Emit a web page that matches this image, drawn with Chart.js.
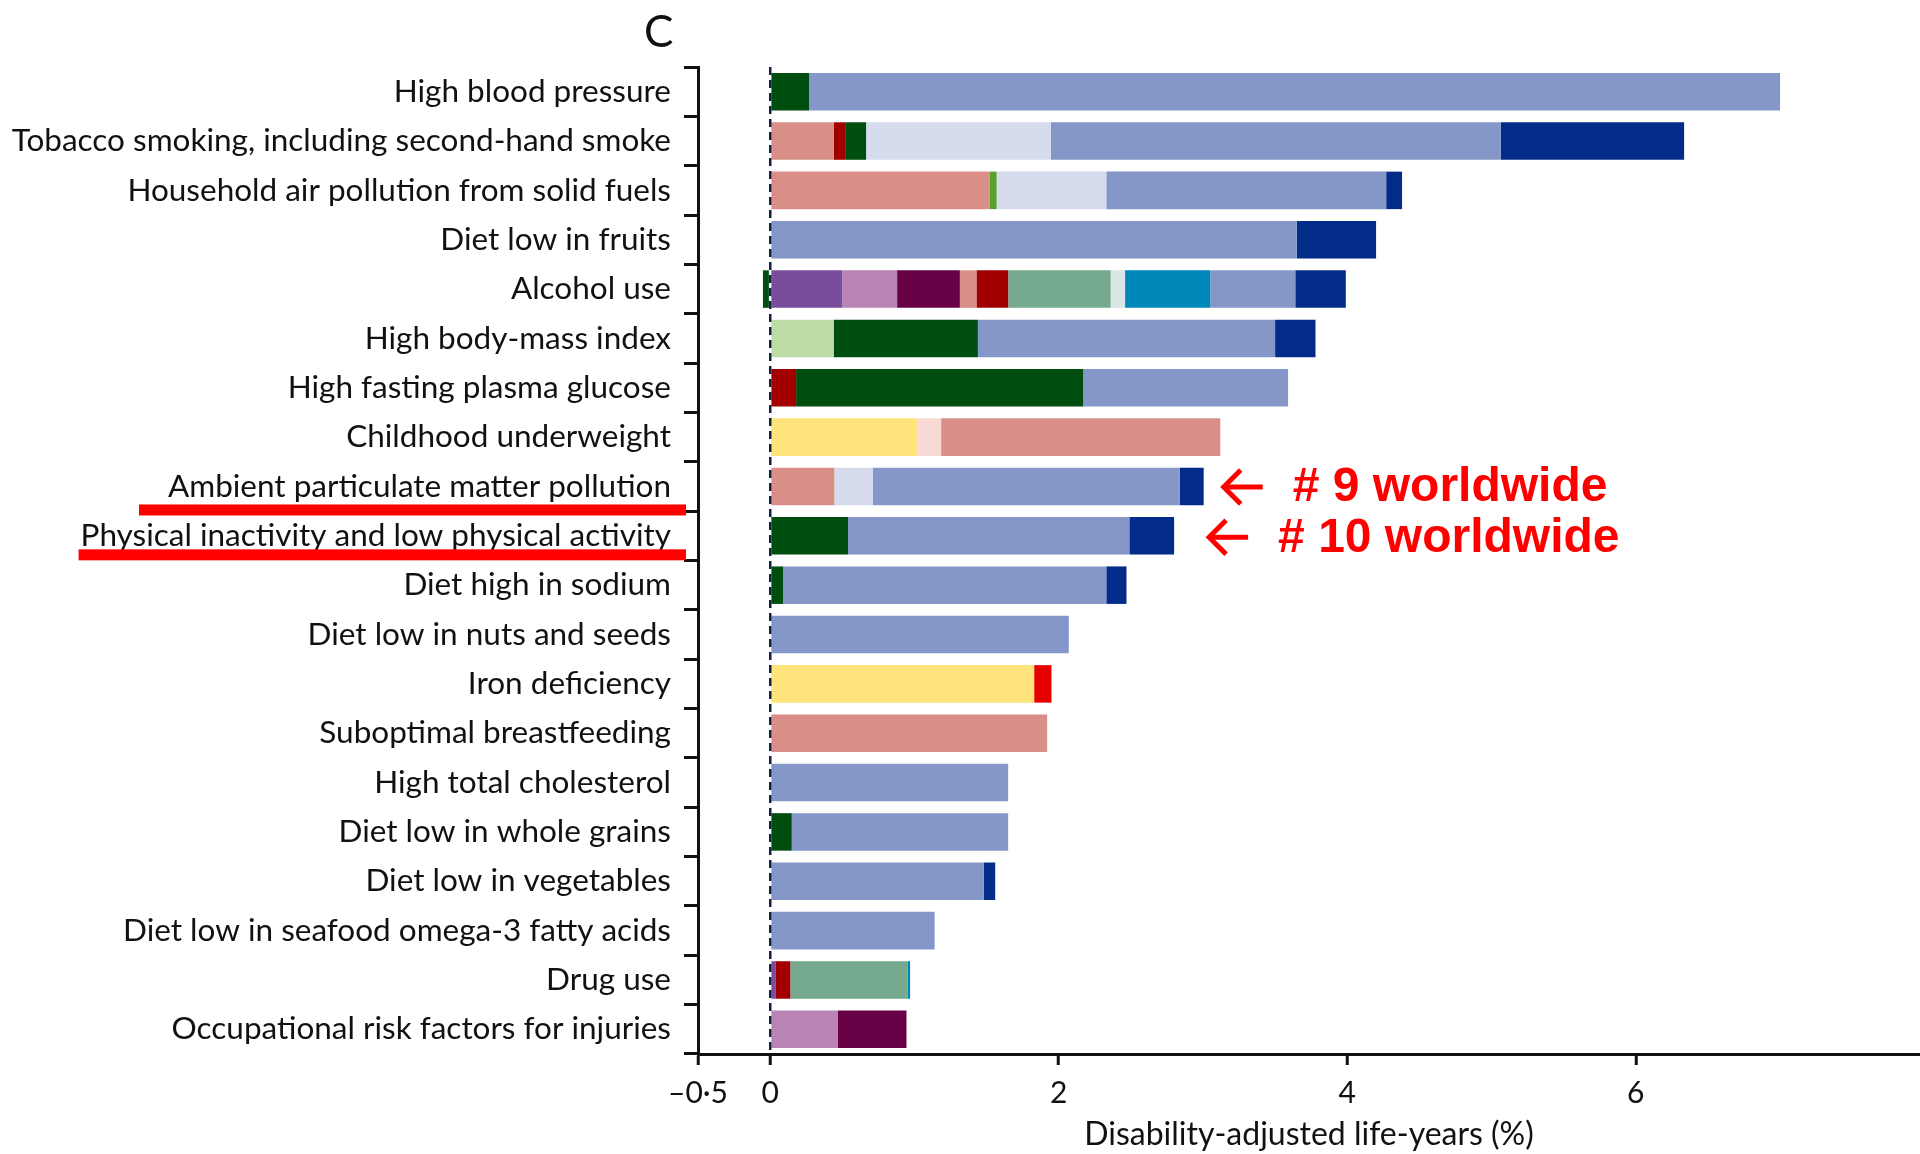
<!DOCTYPE html>
<html>
<head>
<meta charset="utf-8">
<title>Leading risk factors — DALYs</title>
<script src="https://cdn.jsdelivr.net/npm/chart.js@4.4.1/dist/chart.umd.min.js"></script>
<style>
  html, body { margin: 0; padding: 0; background: #ffffff; overflow: hidden; }
  #wrap { position: relative; width: 1920px; height: 1154px; }
</style>
</head>
<body>
<div id="wrap"><canvas id="chart" width="1920" height="1154"></canvas></div>
<script>
// Risk factors, ranked by share of global disability-adjusted life-years
const riskFactors = [
  'High blood pressure',
  'Tobacco smoking, including second-hand smoke',
  'Household air pollution from solid fuels',
  'Diet low in fruits',
  'Alcohol use',
  'High body-mass index',
  'High fasting plasma glucose',
  'Childhood underweight',
  'Ambient particulate matter pollution',
  'Physical inactivity and low physical activity',
  'Diet high in sodium',
  'Diet low in nuts and seeds',
  'Iron deficiency',
  'Suboptimal breastfeeding',
  'High total cholesterol',
  'Diet low in whole grains',
  'Diet low in vegetables',
  'Diet low in seafood omega-3 fatty acids',
  'Drug use',
  'Occupational risk factors for injuries'
];

// Attributable DALYs (%) by cause group, one value per risk factor (same order as above)
const transportInjuries      = [0, 0, 0, 0, 0.50, 0, 0, 0, 0, 0, 0, 0, 0, 0, 0, 0, 0, 0, 0.04, 0];
const unintentionalInjuries  = [0, 0, 0, 0, 0.38, 0, 0, 0, 0, 0, 0, 0, 0, 0, 0, 0, 0, 0, 0, 0.47];
const selfHarmViolence       = [0, 0, 0, 0, 0.435, 0, 0, 0, 0, 0, 0, 0, 0, 0, 0, 0, 0, 0, 0, 0.475];
const nutritionalDeficiency  = [0, 0, 0, 0, 0, 0, 0, 1.02, 0, 0, 0, 0, 1.83, 0, 0, 0, 0, 0, 0, 0];
const maternalDisorders      = [0, 0, 0, 0, 0, 0, 0, 0, 0, 0, 0, 0, 0.12, 0, 0, 0, 0, 0, 0, 0];
const otherCommunicable      = [0, 0, 0, 0, 0, 0, 0, 0.165, 0, 0, 0, 0, 0, 0, 0, 0, 0, 0, 0, 0];
const commonInfections       = [0, 0.44, 1.52, 0, 0.115, 0, 0, 1.935, 0.445, 0, 0, 0, 0, 1.92, 0, 0, 0, 0, 0, 0];
const hivTuberculosis        = [0, 0.085, 0, 0, 0.22, 0, 0.18, 0, 0, 0, 0, 0, 0, 0, 0, 0, 0, 0, 0.10, 0];
const musculoskeletal        = [0, 0, 0, 0, 0, 0.44, 0, 0, 0, 0, 0, 0, 0, 0, 0, 0, 0, 0, 0, 0];
const diabetesEndocrine      = [0.27, 0.14, 0, 0, -0.05, 1.00, 1.99, 0, 0, 0.54, 0.09, 0, 0, 0, 0, 0.15, 0, 0, 0, 0];
const otherNonCommunicable   = [0, 0, 0.05, 0, 0, 0, 0, 0, 0, 0, 0, 0, 0, 0, 0, 0, 0, 0, 0, 0];
const mentalSubstanceUse     = [0, 0, 0, 0, 0.71, 0, 0, 0, 0, 0, 0, 0, 0, 0, 0, 0, 0, 0, 0.815, 0];
const neurological           = [0, 0, 0, 0, 0.10, 0, 0, 0, 0, 0, 0, 0, 0, 0, 0, 0, 0, 0, 0, 0];
const cirrhosis              = [0, 0, 0, 0, 0.59, 0, 0, 0, 0, 0, 0, 0, 0, 0, 0, 0, 0, 0, 0.015, 0];
const chronicRespiratory     = [0, 1.28, 0.76, 0, 0, 0, 0, 0, 0.265, 0, 0, 0, 0, 0, 0, 0, 0, 0, 0, 0];
const cardiovascular         = [6.73, 3.12, 1.94, 3.65, 0.59, 2.06, 1.42, 0, 2.13, 1.95, 2.24, 2.07, 0, 0, 1.65, 1.50, 1.48, 1.14, 0, 0];
const neoplasms              = [0, 1.27, 0.11, 0.55, 0.35, 0.28, 0, 0, 0.165, 0.31, 0.14, 0, 0, 0, 0, 0, 0.08, 0, 0, 0];

// Axis tick values
const xTickValues = [-0.5, 0, 2, 4, 6];

// Stack order (left to right) with fill colours
const causeSeries = [
  ['Transport injuries', transportInjuries, '#7a4c9c'],
  ['Unintentional injuries', unintentionalInjuries, '#b984b4'],
  ['Self-harm and interpersonal violence', selfHarmViolence, '#670044'],
  ['Nutritional deficiencies', nutritionalDeficiency, '#fee47a'],
  ['Maternal disorders', maternalDisorders, '#e60000'],
  ['Other communicable diseases', otherCommunicable, '#f7dad5'],
  ['Diarrhoea, lower respiratory and other common infections', commonInfections, '#d98e87'],
  ['HIV/AIDS and tuberculosis', hivTuberculosis, '#a20000'],
  ['Musculoskeletal disorders', musculoskeletal, '#bedca6'],
  ['Diabetes, urogenital, blood and endocrine diseases', diabetesEndocrine, '#004d10'],
  ['Other non-communicable diseases', otherNonCommunicable, '#5aa02d'],
  ['Mental and substance use disorders', mentalSubstanceUse, '#76aa8e'],
  ['Neurological disorders', neurological, '#dae5e6'],
  ['Cirrhosis', cirrhosis, '#0087ba'],
  ['Chronic respiratory diseases', chronicRespiratory, '#d6dcee'],
  ['Cardiovascular diseases', cardiovascular, '#8597c9'],
  ['Neoplasms', neoplasms, '#032b8a']
];

const LABEL_FONT = { family: 'Lato', size: 31.5 };
const Y_TICK_LEN = 14;
const Y_TICK_PAD = 13;

// Highlighted rows: red underline beneath the label, arrow and rank note beside the bar
const highlights = [
  { row: 8, note: '# 9 worldwide', underlineDy: 23.5, underlineLead: 29, arrowGap: 19, arrowDy: 0.5 },
  { row: 9, note: '# 10 worldwide', underlineDy: 19, underlineLead: 2, arrowGap: 34, arrowDy: 1.5 }
];

const annotationPlugin = {
  id: 'figureAnnotations',
  afterDraw(chart) {
    const { ctx, scales } = chart;
    const x = scales.x, y = scales.y;
    ctx.save();

    // Panel letter
    ctx.fillStyle = '#111';
    ctx.font = '44px Lato';
    ctx.textAlign = 'left';
    ctx.textBaseline = 'alphabetic';
    ctx.fillText('C', y.right - 54, 47);

    const labelRight = y.right - Y_TICK_LEN - Y_TICK_PAD;
    ctx.font = LABEL_FONT.size + 'px ' + LABEL_FONT.family;

    highlights.forEach(h => {
      const rowY = y.getPixelForValue(h.row);

      // underline below the risk-factor label
      const w = ctx.measureText(riskFactors[h.row]).width;
      ctx.fillStyle = '#ff0000';
      ctx.fillRect(labelRight - w - h.underlineLead, rowY + h.underlineDy - 5.5,
                   (y.right - 12) - (labelRight - w - h.underlineLead), 11);

      // arrow pointing at the end of the bar
      const total = causeSeries.reduce((s, c) => s + Math.max(0, c[1][h.row]), 0);
      const tip = x.getPixelForValue(total) + h.arrowGap;
      const ay = rowY + h.arrowDy;
      ctx.strokeStyle = '#ff0000';
      ctx.lineWidth = 5;
      ctx.lineCap = 'butt';
      ctx.lineJoin = 'miter';
      ctx.beginPath();
      ctx.moveTo(tip + 2, ay);
      ctx.lineTo(tip + 40, ay);
      ctx.stroke();
      ctx.beginPath();
      ctx.moveTo(tip + 18, ay - 17);
      ctx.lineTo(tip + 1, ay);
      ctx.lineTo(tip + 18, ay + 17);
      ctx.stroke();

      // rank note
      ctx.fillStyle = '#ff0000';
      ctx.font = 'bold 48px "Liberation Sans", Arial, sans-serif';
      ctx.textBaseline = 'middle';
      ctx.fillText(h.note, tip + 70, ay + 1);
      ctx.font = LABEL_FONT.size + 'px ' + LABEL_FONT.family;
    });

    ctx.restore();
  }
};

new Chart(document.getElementById('chart'), {
  type: 'bar',
  data: {
    labels: riskFactors,
    datasets: causeSeries.map(([name, values, color]) => ({
      label: name,
      data: values,
      backgroundColor: color,
      borderWidth: 0,
      barPercentage: 0.76,
      categoryPercentage: 1.0
    }))
  },
  options: {
    indexAxis: 'y',
    responsive: false,
    animation: false,
    devicePixelRatio: 1,
    layout: { padding: { top: 67, right: 0, bottom: 0, left: 0 } },
    plugins: {
      legend: { display: false },
      tooltip: { enabled: false },
      title: { display: false }
    },
    scales: {
      x: {
        type: 'linear',
        stacked: true,
        min: -0.5,
        max: 7.97,
        afterBuildTicks: s => { s.ticks = xTickValues.map(v => ({ value: v })); },
        afterFit: s => { s.height = 100; },
        grid: {
          z: 1,
          color: c => (c.tick && c.tick.value === 0) ? '#13203f' : 'rgba(0,0,0,0)',
          lineWidth: 2.5,
          drawTicks: true,
          tickLength: 11,
          tickWidth: 3,
          tickColor: '#111'
        },
        border: { display: true, color: '#111', width: 3, dash: [8, 5], z: 2 },
        ticks: {
          font: { family: 'Lato', size: 30 },
          color: '#111',
          padding: 10,
          maxRotation: 0,
          autoSkip: false,
          callback: v => (v < 0 ? '\u2013' : '') + String(Math.abs(v)).replace('.', '\u00b7')
        },
        title: {
          display: true,
          text: 'Disability-adjusted life-years (%)',
          font: { family: 'Lato', size: 32 },
          color: '#111',
          padding: { top: 0, bottom: 0 }
        }
      },
      y: {
        type: 'category',
        stacked: true,
        afterFit: s => { s.width = 698; },
        grid: {
          drawOnChartArea: false,
          drawTicks: true,
          offset: true,
          tickLength: Y_TICK_LEN,
          tickWidth: 3,
          tickColor: '#111'
        },
        border: { display: true, color: '#111', width: 3 },
        ticks: {
          font: LABEL_FONT,
          color: '#111',
          padding: Y_TICK_PAD,
          autoSkip: false,
          crossAlign: 'near'
        }
      }
    }
  },
  plugins: [annotationPlugin]
});
</script>
</body>
</html>
